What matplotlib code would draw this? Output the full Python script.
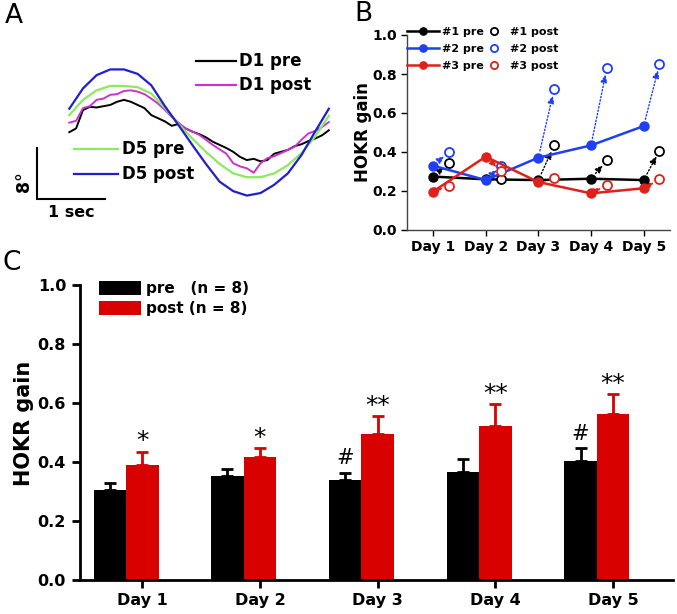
import matplotlib.pyplot as plt
import numpy as np

plt.rcParams['font.family'] = 'DejaVu Sans'
plt.rcParams['font.weight'] = 'bold'
plt.rcParams['axes.labelweight'] = 'bold'

# Panel A: example eye-position traces (deg)
t_smooth = np.arange(20) * 0.2
t_noisy = np.arange(39) * 0.1
d5_post = [2.3, 5.5, 7.6, 8.5, 8.5, 7.8, 6.0, 2.7, -0.3, -3.4, -6.4, -9.2, -10.7, -11.4,
           -11.0, -9.7, -7.9, -5.0, -1.3, 2.3]
d5_pre = [1.3, 3.7, 5.2, 5.9, 5.9, 5.7, 4.7, 2.4, -0.1, -2.4, -4.5, -6.4, -7.9, -8.5,
          -8.5, -7.9, -6.6, -4.7, -2.1, 1.2]
d1_post = [0.1, 0.4, 2.4, 2.7, 3.7, 3.9, 4.5, 4.6, 5.1, 5.2, 5.0, 4.6, 3.9, 3.1, 2.1, 1.0,
           0.1, -0.8, -1.3, -1.8, -2.6, -3.4, -4.1, -4.8, -6.3, -6.8, -7.1, -7.8, -6.3, -5.5,
           -5.2, -4.7, -4.2, -3.7, -2.6, -1.6, -1.2, -0.6, 0.2]
d1_pre = [-1.4, -0.8, 2.1, 2.6, 2.5, 2.7, 2.9, 3.4, 3.7, 3.4, 2.9, 2.4, 1.3, 0.8, 0.3, -0.4,
          -0.1, -0.8, -1.3, -1.7, -2.2, -2.9, -3.4, -3.9, -4.5, -5.3, -5.8, -5.6, -6.0, -5.8,
          -4.8, -4.5, -4.2, -3.6, -3.3, -2.8, -2.4, -1.9, -1.1]

# Panel B: individual mice
days = np.array([1, 2, 3, 4, 5])
day_labels = ['Day 1', 'Day 2', 'Day 3', 'Day 4', 'Day 5']
m1_pre = [0.274, 0.26, 0.256, 0.263, 0.256]
m1_post = [0.345, 0.26, 0.434, 0.357, 0.407]
m2_pre = [0.33, 0.256, 0.371, 0.434, 0.533]
m2_post = [0.40, 0.33, 0.721, 0.829, 0.85]
m3_pre = [0.197, 0.376, 0.246, 0.188, 0.214]
m3_post = [0.226, 0.30, 0.268, 0.231, 0.26]

# Panel C: group means
pre_mean = [0.304, 0.353, 0.338, 0.366, 0.404]
pre_sem = [0.025, 0.022, 0.025, 0.043, 0.041]
post_mean = [0.389, 0.417, 0.495, 0.522, 0.561]
post_sem = [0.045, 0.028, 0.060, 0.073, 0.068]
post_marks = ['*', '*', '**', '**', '**']
pre_marks = ['', '', '#', '', '#']

W, H = 677, 614
fig = plt.figure(figsize=(W / 100, H / 100), dpi=100)


def px_axes(x0, y0, x1, y1):
    # axes box given in pixel coords of the figure (top-left origin)
    return fig.add_axes([x0 / W, 1 - y1 / H, (x1 - x0) / W, (y1 - y0) / H])


# ---------------- A ----------------
axa = px_axes(0, 30, 345, 230)
axa.set_xlim(-1.015, 4.037)
axa.set_ylim(-16.83, 14.72)
axa.axis('off')

axa.plot(t_noisy, d1_pre, color='black', lw=1.4)
axa.plot(t_noisy, d1_post, color='#cc33cc', lw=1.4)
axa.plot(t_smooth, d5_pre, color='#8ee860', lw=1.6)
axa.plot(t_smooth, d5_post, color='#1f1fd0', lw=1.6)

leg_a = [('D1 pre', 'black', 1.855, 2.44, 9.83),
         ('D1 post', '#cc33cc', 1.855, 2.44, 6.04),
         ('D5 pre', '#8ee860', 0.07, 0.717, -4.05),
         ('D5 post', '#1f1fd0', 0.07, 0.717, -8.04)]
for lab, c, xa, xb, yy in leg_a:
    axa.plot([xa, xb], [yy, yy], color=c, lw=1.6)
    axa.text(xb + 0.05, yy, lab, fontsize=12, va='center', ha='left')

# scale bar: 8 deg, 1 sec
axa.plot([-0.477, -0.477, 0.523], [-3.94, -11.94, -11.94], color='black', lw=1.5,
         solid_joinstyle='miter')
axa.text(0.035, -14.0, '1 sec', fontsize=11.5, ha='center', va='center')
axa.text(-0.66, -9.2, '8°', fontsize=12.5, ha='center', va='center', rotation=90)

# ---------------- B ----------------
axb = px_axes(406.7, 35, 670, 230)
x_post = days + 0.3
series = [(m1_pre, m1_post, 'black', '#1'),
          (m2_pre, m2_post, '#1f3ff5', '#2'),
          (m3_pre, m3_post, '#e0201b', '#3')]
pre_handles, post_handles = [], []
for pre, post, c, name in series:
    for i in range(len(days)):
        axb.annotate('', xy=(x_post[i], post[i]), xytext=(days[i], pre[i]),
                     arrowprops=dict(arrowstyle='-|>,head_length=0.45,head_width=0.2',
                                     color=c, lw=1, linestyle=(0, (1, 1.5)),
                                     shrinkA=5, shrinkB=4.5))
for pre, post, c, name in series:
    ln, = axb.plot(days, pre, '-o', color=c, lw=1.8, ms=6.5, zorder=3)
    op, = axb.plot(x_post, post, 'o', ls='none', mfc='white', mec=c, mew=1.3, ms=6.5,
                   zorder=3)
    pre_handles.append(ln)
    post_handles.append(op)

axb.set_xlim(0.5, 5.5)
axb.set_ylim(0, 1.0)
axb.set_xticks(days)
axb.set_xticklabels(day_labels)
axb.set_yticks(np.arange(0, 1.01, 0.2))
axb.set_yticklabels(['%.1f' % v for v in np.arange(0, 1.01, 0.2)])
for s in ['top', 'right']:
    axb.spines[s].set_visible(False)
for s in ['left', 'bottom']:
    axb.spines[s].set_linewidth(1.0)
    axb.spines[s].set_color('#444444')
axb.tick_params(direction='out', length=4, width=1, labelsize=10, pad=3)
axb.set_ylabel('HOKR gain', fontsize=12)
axb.yaxis.set_label_coords(-0.13, 0.5)

leg1 = axb.legend(pre_handles, ['#1 pre', '#2 pre', '#3 pre'], loc='upper left',
                  bbox_to_anchor=(0.0, 1.04), frameon=False, fontsize=8,
                  handlelength=2.9, handletextpad=0.3, labelspacing=0.6,
                  borderpad=0, borderaxespad=0, markerscale=0.8)
axb.add_artist(leg1)
axb.legend(post_handles, ['#1 post', '#2 post', '#3 post'], loc='upper left',
           bbox_to_anchor=(0.305, 1.04), frameon=False, fontsize=8,
           handlelength=1.2, handletextpad=0.9, labelspacing=0.6,
           borderpad=0, borderaxespad=0, markerscale=0.8)

# ---------------- C ----------------
axc = px_axes(80, 285, 673, 579.5)
bw = 0.276
zeros = np.zeros(len(days))
bars_pre = axc.bar(days - bw, pre_mean, bw, color='black',
                   yerr=[zeros, pre_sem], ecolor='black',
                   error_kw=dict(lw=2, capsize=4, capthick=2))
bars_post = axc.bar(days, post_mean, bw, color='#d90000',
                    yerr=[zeros, post_sem], ecolor='#d90000',
                    error_kw=dict(lw=2, capsize=4, capthick=2))

for i in range(len(days)):
    top = post_mean[i] + post_sem[i]
    axc.text(days[i], top + 0.035, post_marks[i], ha='center', va='center',
             fontsize=18, fontweight='normal')
    if pre_marks[i]:
        top = pre_mean[i] + pre_sem[i]
        axc.text(days[i] - bw, top + 0.05, pre_marks[i], ha='center', va='center',
                 fontsize=15, fontweight='normal')

axc.set_xlim(0.471, 5.509)
axc.set_ylim(0, 1.0)
axc.set_xticks(days)
axc.set_xticklabels(day_labels)
axc.set_yticks(np.arange(0, 1.01, 0.2))
axc.set_yticklabels(['%.1f' % v for v in np.arange(0, 1.01, 0.2)])
for s in ['top', 'right']:
    axc.spines[s].set_visible(False)
for s in ['left', 'bottom']:
    axc.spines[s].set_linewidth(2)
axc.tick_params(direction='out', length=6, width=2, labelsize=11.5, pad=4)
axc.set_ylabel('HOKR gain', fontsize=15)
axc.yaxis.set_label_coords(-0.078, 0.53)

axc.legend([bars_pre, bars_post], ['pre   (n = 8)', 'post (n = 8)'], loc='upper left',
           bbox_to_anchor=(0.0325, 1.015), frameon=False, fontsize=11,
           handlelength=2.75, handleheight=1.1, handletextpad=0.3, labelspacing=0.3,
           borderpad=0, borderaxespad=0)

# panel letters
fig.text(14 / W, 1 - 16 / H, 'A', fontsize=19, fontweight='normal', ha='center', va='center')
fig.text(363 / W, 1 - 14 / H, 'B', fontsize=19, fontweight='normal', ha='center', va='center')
fig.text(12 / W, 1 - 263 / H, 'C', fontsize=19, fontweight='normal', ha='center', va='center')

fig.savefig('out.png', dpi=100)
